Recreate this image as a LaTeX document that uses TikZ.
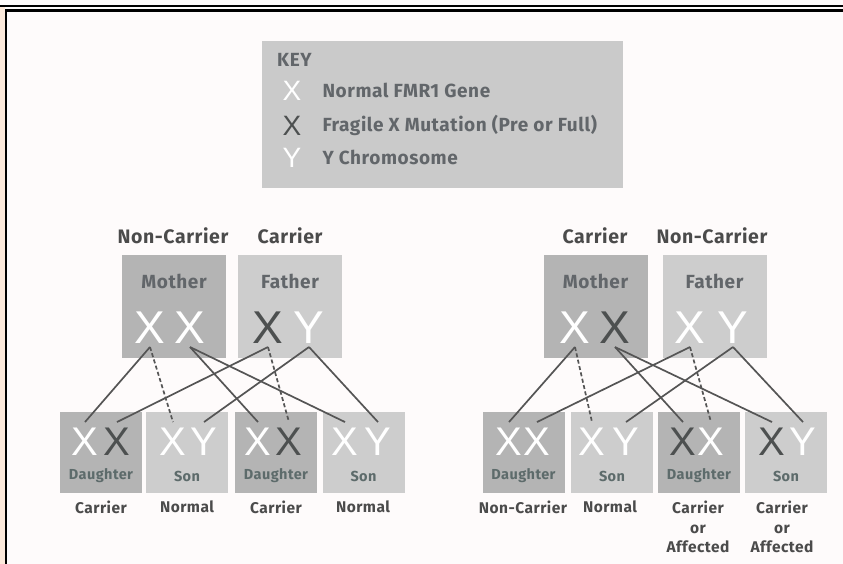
\documentclass[tikz,border=0pt]{standalone}
\usepackage{fontspec}
\newfontfamily\lblfont{Fira Sans}[LetterSpace=3]
\newfontfamily\chrfont{Liberation Sans}

\definecolor{pagebg}{HTML}{FEFBFB}
\definecolor{peach}{HTML}{FCE9DB}
\definecolor{keygrey}{HTML}{CACACA}
\definecolor{darkgrey}{HTML}{B4B4B4}
\definecolor{lightgrey}{HTML}{CDCDCD}
\definecolor{mutx}{HTML}{4D5050}
\definecolor{lbltext}{HTML}{4B4B4B}
\definecolor{boxtext}{HTML}{62666A}
\definecolor{kidtext}{HTML}{5D6B6B}
\definecolor{linegrey}{HTML}{555555}

\tikzset{
  darkparent/.style={fill=darkgrey, inner sep=0, minimum width=104pt, minimum height=103pt},
  lightparent/.style={fill=lightgrey, inner sep=0, minimum width=104pt, minimum height=103pt},
  darkkid/.style={fill=darkgrey, inner sep=0, minimum width=82pt, minimum height=81pt},
  lightkid/.style={fill=lightgrey, inner sep=0, minimum width=82pt, minimum height=81pt},
  bigchr/.style={font=\chrfont\fontsize{46}{46}\selectfont, inner sep=3pt},
  kidchr/.style={font=\chrfont\fontsize{40}{40}\selectfont, inner sep=6pt},
  keychr/.style={font=\chrfont\fontsize{28}{28}\selectfont, inner sep=0},
  header/.style={font=\lblfont\bfseries\fontsize{19.5}{21}\selectfont, text=lbltext},
  boxlabel/.style={font=\lblfont\bfseries\fontsize{19}{21}\selectfont, text=boxtext},
  kidlabel/.style={font=\lblfont\bfseries\fontsize{14.5}{17}\selectfont, text=kidtext},
  status/.style={font=\lblfont\bfseries\fontsize{15.5}{19.5}\selectfont, text=lbltext, align=center},
  keytext/.style={font=\lblfont\bfseries\fontsize{19}{21}\selectfont, text=boxtext, anchor=west},
  gene/.style={line width=1.7pt, draw=linegrey},
  passed/.style={gene, dash pattern=on 4pt off 2.5pt},
}

\begin{document}
\begin{tikzpicture}[x=1pt, y=-1pt]
  \useasboundingbox (0,0) rectangle (843,564);

  % Page and frame
  \fill[pagebg] (0,0) rectangle (843,564);
  \fill[peach] (0,7) rectangle (5,564);
  \draw[line width=2pt] (0,6) -- (843,6);
  \draw[line width=2.4pt] (5,10.5) -- (843,10.5);
  \draw[line width=2.6pt] (6,9.3) -- (6,564);

  % Key
  \node[fill=keygrey, inner sep=0, minimum width=361pt, minimum height=147pt] (keybox) at (442.5,114.5) {};
  \node[font=\lblfont\bfseries\fontsize{19}{21}\selectfont, text=boxtext, anchor=west, inner sep=0] (keytitle) at (277,60) {KEY};
  \node[keychr, text=white] (keyx) at (292,91) {X};
  \node[keychr, text=mutx] (keym) at (292,126) {X};
  \node[keychr, text=white] (keyy) at (292,158) {Y};
  \node[keytext] (keyxt) at (319,90) {Normal FMR1 Gene};
  \node[keytext] (keymt) at (319,125) {Fragile X Mutation (Pre or Full)};
  \node[keytext] (keyyt) at (319,157) {Y Chromosome};

  % Left family: parents
  \node[header] (lmstat) at (173,236) {Non-Carrier};
  \node[header] (lfstat) at (290,236) {Carrier};
  \node[darkparent] (lmom) at (174,306.5) {};
  \node[lightparent] (ldad) at (290,306.5) {};
  \node[boxlabel] (lmomlab) at (174,281) {Mother};
  \node[boxlabel] (ldadlab) at (290,281) {Father};
  \node[bigchr, text=white] (lmA) at (150,328) {X};
  \node[bigchr, text=white] (lmB) at (190,328) {X};
  \node[bigchr, text=mutx] (lfX) at (268,328) {X};
  \node[bigchr, text=white] (lfY) at (309,328) {Y};

  % Left family: children
  \node[darkkid] (ld1) at (101,452.5) {};
  \node[lightkid] (ls1) at (187,452.5) {};
  \node[darkkid] (ld2) at (276,452.5) {};
  \node[lightkid] (ls2) at (363.5,452.5) {};
  \node[kidchr, text=white] (ld1a) at (85,442) {X};
  \node[kidchr, text=mutx] (ld1b) at (117,442) {X};
  \node[kidchr, text=white] (ls1a) at (173,442) {X};
  \node[kidchr, text=white] (ls1b) at (204,442) {Y};
  \node[kidchr, text=white] (ld2a) at (258,442) {X};
  \node[kidchr, text=mutx] (ld2b) at (289,442) {X};
  \node[kidchr, text=white] (ls2a) at (345,442) {X};
  \node[kidchr, text=white] (ls2b) at (378,442) {Y};
  \node[kidlabel] (ld1lab) at (101,476) {Daughter};
  \node[kidlabel] (ls1lab) at (187,476) {Son};
  \node[kidlabel] (ld2lab) at (276,476) {Daughter};
  \node[kidlabel] (ls2lab) at (363.5,476) {Son};
  \node[status] (ld1stat) at (101,507) {Carrier};
  \node[status] (ls1stat) at (187,507) {Normal};
  \node[status] (ld2stat) at (276,507) {Carrier};
  \node[status] (ls2stat) at (363,507) {Normal};

  % Right family: parents
  \node[header] (rmstat) at (595,236) {Carrier};
  \node[header] (rfstat) at (712,236) {Non-Carrier};
  \node[darkparent] (rmom) at (595.5,306.5) {};
  \node[lightparent] (rdad) at (714.5,306.5) {};
  \node[boxlabel] (rmomlab) at (595.5,281) {Mother};
  \node[boxlabel] (rdadlab) at (714.5,281) {Father};
  \node[bigchr, text=white] (rmA) at (575,328) {X};
  \node[bigchr, text=mutx] (rmB) at (615,328) {X};
  \node[bigchr, text=white] (rfX) at (690,328) {X};
  \node[bigchr, text=white] (rfY) at (733,328) {Y};

  % Right family: children
  \node[darkkid] (rd1) at (523.5,452.5) {};
  \node[lightkid] (rs1) at (612,452.5) {};
  \node[darkkid] (rd2) at (699,452.5) {};
  \node[lightkid] (rs2) at (786,452.5) {};
  \node[kidchr, text=white] (rd1a) at (509,442) {X};
  \node[kidchr, text=white] (rd1b) at (537,442) {X};
  \node[kidchr, text=white] (rs1a) at (592,442) {X};
  \node[kidchr, text=white] (rs1b) at (626,442) {Y};
  \node[kidchr, text=mutx] (rd2a) at (683,442) {X};
  \node[kidchr, text=white] (rd2b) at (711,442) {X};
  \node[kidchr, text=mutx] (rs2a) at (772,442) {X};
  \node[kidchr, text=white] (rs2b) at (803,442) {Y};
  \node[kidlabel] (rd1lab) at (523.5,476) {Daughter};
  \node[kidlabel] (rs1lab) at (612,476) {Son};
  \node[kidlabel] (rd2lab) at (699,476) {Daughter};
  \node[kidlabel] (rs2lab) at (786,476) {Son};
  \node[status] (rd1stat) at (523,507) {Non-Carrier};
  \node[status] (rs1stat) at (610,507) {Normal};
  \node[status] (rd2stat) at (698,527) {Carrier\\or\\Affected};
  \node[status] (rs2stat) at (782,527) {Carrier\\or\\Affected};

  % Inheritance lines
  \draw[gene] (lmA.south) -- (ld1a.north);
  \draw[passed] (lmA.south) -- (ls1a.north);
  \draw[gene] (lmB.south) -- (ld2a.north);
  \draw[gene] (lmB.south) -- (ls2a.north);
  \draw[gene] (lfX.south) -- (ld1b.north);
  \draw[passed] (lfX.south) -- (ld2b.north);
  \draw[gene] (lfY.south) -- (ls1b.north);
  \draw[gene] (lfY.south) -- (ls2b.north);

  \draw[gene] (rmA.south) -- (rd1a.north);
  \draw[passed] (rmA.south) -- (rs1a.north);
  \draw[gene] (rmB.south) -- (rd2a.north);
  \draw[gene] (rmB.south) -- (rs2a.north);
  \draw[gene] (rfX.south) -- (rd1b.north);
  \draw[passed] (rfX.south) -- (rd2b.north);
  \draw[gene] (rfY.south) -- (rs1b.north);
  \draw[gene] (rfY.south) -- (rs2b.north);
\end{tikzpicture}
\end{document}
